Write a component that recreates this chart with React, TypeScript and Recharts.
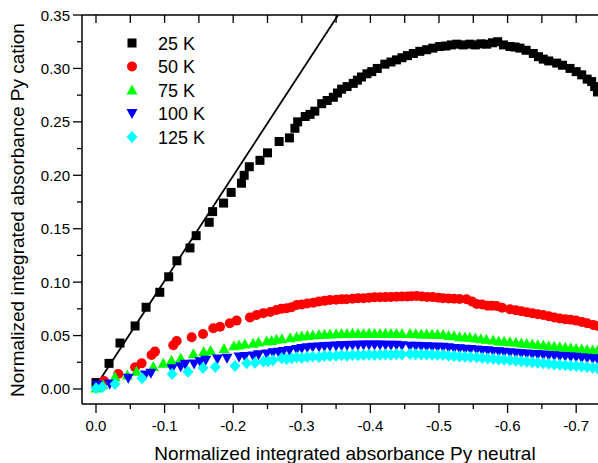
import React from 'react';
import { ScatterChart, Scatter, XAxis, YAxis, ReferenceLine } from 'recharts';

// [neutral, cation] pairs
const k25: [number, number][] = [
  [0, 0.006], [-0.019, 0.024], [-0.035, 0.043], [-0.057, 0.059], [-0.073, 0.0765],
  [-0.093, 0.0905], [-0.106, 0.105], [-0.118, 0.12], [-0.137, 0.132], [-0.146, 0.1435],
  [-0.165, 0.156], [-0.17, 0.166], [-0.186, 0.174], [-0.197, 0.184], [-0.212, 0.1926],
  [-0.216, 0.2], [-0.2235, 0.208], [-0.239, 0.214], [-0.25, 0.221], [-0.267, 0.2316],
  [-0.282, 0.235], [-0.29, 0.244], [-0.294, 0.25], [-0.305, 0.255], [-0.312, 0.257],
  [-0.319, 0.26], [-0.329, 0.267], [-0.337, 0.27], [-0.346, 0.273], [-0.352, 0.277],
  [-0.358, 0.2806], [-0.366, 0.283], [-0.375, 0.286], [-0.381, 0.289], [-0.387, 0.292],
  [-0.395, 0.295], [-0.402, 0.297], [-0.41, 0.3], [-0.421, 0.304], [-0.43, 0.306],
  [-0.438, 0.308], [-0.446, 0.31], [-0.454, 0.312], [-0.4626, 0.314], [-0.472, 0.316],
  [-0.482, 0.3175], [-0.491, 0.319], [-0.501, 0.3205], [-0.51, 0.321], [-0.518, 0.322],
  [-0.526, 0.3227], [-0.535, 0.322], [-0.545, 0.3227], [-0.553, 0.322], [-0.561, 0.323],
  [-0.5695, 0.3227], [-0.578, 0.324], [-0.5856, 0.325], [-0.594, 0.322], [-0.6035, 0.3205],
  [-0.611, 0.32], [-0.618, 0.319], [-0.627, 0.317], [-0.6375, 0.314], [-0.645, 0.311],
  [-0.652, 0.3087], [-0.66, 0.307], [-0.6716, 0.305], [-0.68, 0.303], [-0.691, 0.3],
  [-0.7, 0.297], [-0.708, 0.294], [-0.716, 0.29], [-0.7226, 0.2877], [-0.727, 0.283],
  [-0.731, 0.278],
];

const k50: [number, number][] = [
  [-0.005, 0.002], [-0.0117, 0.0075], [-0.0325, 0.014], [-0.057, 0.0203], [-0.0666, 0.024],
  [-0.081, 0.0318], [-0.086, 0.035], [-0.1127, 0.041], [-0.1176, 0.045], [-0.1395, 0.0484],
  [-0.156, 0.0515], [-0.171, 0.0568], [-0.1808, 0.0583], [-0.195, 0.0615], [-0.205, 0.064],
  [-0.2245, 0.067], [-0.234, 0.0693], [-0.244, 0.071], [-0.254, 0.072], [-0.263, 0.074],
  [-0.27, 0.075], [-0.278, 0.0755], [-0.285, 0.0765], [-0.2925, 0.0786], [-0.3, 0.079],
  [-0.308, 0.08], [-0.3168, 0.0808], [-0.325, 0.082], [-0.333, 0.0825], [-0.341, 0.0833],
  [-0.35, 0.0835], [-0.358, 0.084], [-0.365, 0.084], [-0.374, 0.0845], [-0.382, 0.085],
  [-0.39, 0.085], [-0.398, 0.0855], [-0.406, 0.0858], [-0.414, 0.0859], [-0.422, 0.086],
  [-0.43, 0.0862], [-0.438, 0.0864], [-0.446, 0.0866], [-0.454, 0.0866], [-0.46, 0.0868],
  [-0.4675, 0.087], [-0.475, 0.0865], [-0.483, 0.0862], [-0.491, 0.086], [-0.499, 0.0855],
  [-0.506, 0.085], [-0.514, 0.0848], [-0.522, 0.0845], [-0.53, 0.0842], [-0.54, 0.084],
  [-0.548, 0.082], [-0.555, 0.0796], [-0.563, 0.079], [-0.571, 0.078], [-0.577, 0.078],
  [-0.584, 0.0777], [-0.592, 0.076], [-0.6035, 0.0746], [-0.612, 0.0737], [-0.62, 0.0728],
  [-0.628, 0.0718], [-0.636, 0.071], [-0.644, 0.07], [-0.652, 0.0693], [-0.66, 0.068],
  [-0.668, 0.067], [-0.676, 0.066], [-0.684, 0.0653], [-0.692, 0.0648], [-0.7, 0.064],
  [-0.708, 0.0628], [-0.716, 0.0615], [-0.725, 0.06], [-0.732, 0.059],
];

const k75: [number, number][] = [
  [0, 0.001], [-0.01, 0.004], [-0.0277, 0.0115], [-0.0457, 0.0131], [-0.059, 0.0165],
  [-0.0835, 0.021], [-0.098, 0.024], [-0.11, 0.027], [-0.1235, 0.029], [-0.142, 0.033],
  [-0.157, 0.035], [-0.167, 0.036], [-0.1866, 0.038], [-0.201, 0.0405], [-0.2085, 0.0412],
  [-0.217, 0.042], [-0.229, 0.0428], [-0.237, 0.044], [-0.249, 0.045], [-0.256, 0.0455],
  [-0.263, 0.0465], [-0.271, 0.047], [-0.283, 0.048], [-0.2925, 0.049], [-0.3, 0.0495],
  [-0.308, 0.05], [-0.316, 0.0505], [-0.325, 0.051], [-0.333, 0.0512], [-0.341, 0.0515],
  [-0.35, 0.0518], [-0.358, 0.052], [-0.366, 0.052], [-0.374, 0.0522], [-0.382, 0.052],
  [-0.39, 0.052], [-0.398, 0.0522], [-0.406, 0.052], [-0.414, 0.052], [-0.422, 0.0522],
  [-0.43, 0.052], [-0.438, 0.052], [-0.446, 0.052], [-0.4577, 0.052], [-0.466, 0.0518],
  [-0.474, 0.0515], [-0.482, 0.0515], [-0.49, 0.0513], [-0.498, 0.0512], [-0.506, 0.0512],
  [-0.514, 0.05], [-0.522, 0.0498], [-0.53, 0.049], [-0.538, 0.0487], [-0.545, 0.0484],
  [-0.553, 0.0477], [-0.561, 0.047], [-0.569, 0.0465], [-0.579, 0.0459], [-0.587, 0.045],
  [-0.595, 0.0447], [-0.6035, 0.0443], [-0.612, 0.0437], [-0.62, 0.043], [-0.628, 0.0425],
  [-0.636, 0.042], [-0.644, 0.0415], [-0.652, 0.0412], [-0.66, 0.0405], [-0.668, 0.04],
  [-0.676, 0.0395], [-0.684, 0.039], [-0.692, 0.0385], [-0.7, 0.038], [-0.708, 0.0375],
  [-0.716, 0.037], [-0.724, 0.0365], [-0.731, 0.036],
];

const k100: [number, number][] = [
  [-0.002, 0.0037], [-0.02, 0.0047], [-0.047, 0.01], [-0.072, 0.013], [-0.08, 0.0147],
  [-0.111, 0.019], [-0.1235, 0.0209], [-0.13, 0.0231], [-0.143, 0.0234], [-0.1516, 0.0256],
  [-0.16, 0.027], [-0.177, 0.028], [-0.191, 0.0287], [-0.2085, 0.03], [-0.217, 0.0305],
  [-0.229, 0.0309], [-0.237, 0.032], [-0.249, 0.0328], [-0.258, 0.034], [-0.266, 0.0345],
  [-0.273, 0.035], [-0.282, 0.036], [-0.2925, 0.037], [-0.3, 0.0378], [-0.308, 0.0385],
  [-0.316, 0.039], [-0.325, 0.0393], [-0.333, 0.0397], [-0.341, 0.04], [-0.35, 0.0403],
  [-0.358, 0.0405], [-0.366, 0.0408], [-0.374, 0.041], [-0.382, 0.041], [-0.39, 0.0412],
  [-0.398, 0.0412], [-0.406, 0.0412], [-0.414, 0.0412], [-0.422, 0.041], [-0.43, 0.041],
  [-0.438, 0.041], [-0.446, 0.0405], [-0.4577, 0.04], [-0.466, 0.04], [-0.474, 0.0398],
  [-0.482, 0.0395], [-0.49, 0.0393], [-0.498, 0.039], [-0.506, 0.039], [-0.514, 0.0385],
  [-0.522, 0.038], [-0.53, 0.0377], [-0.538, 0.0373], [-0.546, 0.037], [-0.555, 0.0365],
  [-0.563, 0.036], [-0.571, 0.0357], [-0.579, 0.0352], [-0.587, 0.0348], [-0.595, 0.0344],
  [-0.6035, 0.034], [-0.612, 0.0335], [-0.62, 0.033], [-0.628, 0.0327], [-0.636, 0.0324],
  [-0.644, 0.032], [-0.652, 0.0318], [-0.66, 0.0313], [-0.668, 0.031], [-0.676, 0.0306],
  [-0.684, 0.0303], [-0.692, 0.03], [-0.7, 0.0297], [-0.708, 0.029], [-0.716, 0.0287],
  [-0.724, 0.0282], [-0.731, 0.0278],
];

const k125: [number, number][] = [
  [0, 0.0007], [-0.009, 0.0016], [-0.0277, 0.0047], [-0.067, 0.01], [-0.111, 0.014],
  [-0.134, 0.0162], [-0.156, 0.0197], [-0.174, 0.0205], [-0.2026, 0.0215], [-0.2197, 0.024],
  [-0.2318, 0.0246], [-0.244, 0.0258], [-0.251, 0.026], [-0.258, 0.027], [-0.2707, 0.0287],
  [-0.278, 0.028], [-0.2853, 0.0287], [-0.2925, 0.0297], [-0.3, 0.029], [-0.308, 0.03],
  [-0.316, 0.0305], [-0.325, 0.03], [-0.333, 0.031], [-0.341, 0.0309], [-0.35, 0.031],
  [-0.358, 0.0315], [-0.366, 0.031], [-0.374, 0.0318], [-0.382, 0.0315], [-0.39, 0.0318],
  [-0.398, 0.032], [-0.406, 0.0318], [-0.414, 0.032], [-0.422, 0.0322], [-0.43, 0.032],
  [-0.438, 0.0325], [-0.446, 0.0322], [-0.4577, 0.0328], [-0.466, 0.0325], [-0.474, 0.0322],
  [-0.482, 0.0322], [-0.49, 0.032], [-0.498, 0.0318], [-0.506, 0.0318], [-0.514, 0.031],
  [-0.522, 0.0308], [-0.53, 0.0305], [-0.538, 0.0302], [-0.546, 0.03], [-0.555, 0.0297],
  [-0.563, 0.029], [-0.571, 0.0285], [-0.579, 0.028], [-0.587, 0.0277], [-0.595, 0.0273],
  [-0.6035, 0.027], [-0.612, 0.0265], [-0.62, 0.026], [-0.628, 0.0255], [-0.636, 0.025],
  [-0.644, 0.0245], [-0.652, 0.024], [-0.66, 0.0236], [-0.668, 0.023], [-0.676, 0.0227],
  [-0.684, 0.0222], [-0.692, 0.0218], [-0.7, 0.0215], [-0.708, 0.021], [-0.716, 0.0205],
  [-0.724, 0.02], [-0.731, 0.0194],
];

// linear guide through the origin
const fitLine: [number, number][] = [[0.003, 0], [-0.353, 0.35]];

const xTicks = [0, -0.05, -0.1, -0.15, -0.2, -0.25, -0.3, -0.35, -0.4, -0.45, -0.5, -0.55, -0.6, -0.65, -0.7];
const yTicks = [0, 0.025, 0.05, 0.075, 0.1, 0.125, 0.15, 0.175, 0.2, 0.225, 0.25, 0.275, 0.3, 0.325, 0.35];

const FONT = '"Liberation Sans", Arial, sans-serif';
const TOP = 15;

const toPts = (arr: [number, number][]) => arr.map(([x, y]) => ({ x, y }));

const isMajor = (v: number, step: number) => Math.abs(Math.round(v / step) * step - v) < 1e-6;

function XTick({ x, y, payload }: any) {
  const v = payload.value;
  const major = isMajor(v, 0.1);
  return (
    <g>
      <line x1={x} x2={x} y1={y} y2={y + (major ? 9 : 5)} stroke="#000" strokeWidth={1.3} />
      <line x1={x} x2={x} y1={TOP} y2={TOP + 8} stroke="#000" strokeWidth={1.3} />
      {major && (
        <text x={x} y={y + 27} textAnchor="middle" fontSize={15} fontFamily={FONT} fill="#000">
          {v === 0 ? '0.0' : v.toFixed(1)}
        </text>
      )}
    </g>
  );
}

function YTick({ x, y, payload }: any) {
  const v = payload.value;
  const major = isMajor(v, 0.05);
  return (
    <g>
      <line x1={x} x2={x - (major ? 9 : 5)} y1={y} y2={y} stroke="#000" strokeWidth={1.3} />
      {major && (
        <text x={x - 12} y={y + 5.5} textAnchor="end" fontSize={15} fontFamily={FONT} fill="#000">
          {v.toFixed(2)}
        </text>
      )}
    </g>
  );
}

const Square = ({ cx, cy, fill }: any) => <rect x={cx - 4.5} y={cy - 4.5} width={9} height={9} fill={fill} />;
const Dot = ({ cx, cy, fill }: any) => <circle cx={cx} cy={cy} r={5} fill={fill} />;
const TriUp = ({ cx, cy, fill }: any) => (
  <polygon points={`${cx},${cy - 5.5} ${cx + 5.5},${cy + 4.5} ${cx - 5.5},${cy + 4.5}`} fill={fill} />
);
const TriDown = ({ cx, cy, fill }: any) => (
  <polygon points={`${cx - 5.5},${cy - 4.5} ${cx + 5.5},${cy - 4.5} ${cx},${cy + 5.5}`} fill={fill} />
);
const Diamond = ({ cx, cy, fill }: any) => (
  <polygon points={`${cx},${cy - 6} ${cx + 5.5},${cy} ${cx},${cy + 6} ${cx - 5.5},${cy}`} fill={fill} />
);

const series = [
  { name: '25 K', data: k25, color: '#000000', shape: Square },
  { name: '50 K', data: k50, color: '#ff0000', shape: Dot },
  { name: '75 K', data: k75, color: '#00ff00', shape: TriUp },
  { name: '100 K', data: k100, color: '#0000ff', shape: TriDown },
  { name: '125 K', data: k125, color: '#00ffff', shape: Diamond },
];

export default function App() {
  return (
    <div style={{ position: 'absolute', left: 0, top: 0, width: 598, height: 463, overflow: 'hidden', background: '#fff' }}>
      <ScatterChart width={598} height={463} margin={{ top: TOP, right: 0, bottom: 0, left: 0 }}>
        <XAxis
          type="number"
          dataKey="x"
          domain={[-0.7318, 0.0204]}
          reversed
          allowDataOverflow
          ticks={xTicks}
          interval={0}
          tick={<XTick />}
          tickSize={0}
          tickMargin={0}
          tickLine={false}
          height={59}
          axisLine={{ stroke: '#000', strokeWidth: 1.5 }}
        />
        <YAxis
          type="number"
          dataKey="y"
          domain={[-0.01404, 0.35]}
          allowDataOverflow
          ticks={yTicks}
          interval={0}
          tick={<YTick />}
          tickSize={0}
          tickMargin={0}
          tickLine={false}
          width={82}
          axisLine={{ stroke: '#000', strokeWidth: 1.5 }}
        />
        <ReferenceLine y={0.35} stroke="#000" strokeWidth={1.5} />
        {series.map((s) => (
          <Scatter
            key={s.name}
            name={s.name}
            data={toPts(s.data)}
            fill={s.color}
            shape={s.shape}
            isAnimationActive={false}
          />
        ))}
        <ReferenceLine
          segment={fitLine.map(([x, y]) => ({ x, y }))}
          stroke="#000"
          strokeWidth={1.8}
          ifOverflow="hidden"
        />
      </ScatterChart>

      <svg width={598} height={463} style={{ position: 'absolute', left: 0, top: 0, pointerEvents: 'none' }}>
        <text
          x={0}
          y={0}
          transform="translate(24, 210) rotate(-90)"
          textAnchor="middle"
          fontSize={19}
          fontFamily={FONT}
          fill="#000"
        >
          Normalized integrated absorbance Py cation
        </text>
        <text x={345} y={460} textAnchor="middle" fontSize={19} fontFamily={FONT} fill="#000">
          Normalized integrated absorbance Py neutral
        </text>
        {series.map((s, i) => {
          const cy = 43 + i * 23.5;
          const Shape = s.shape;
          return (
            <g key={s.name}>
              <Shape cx={132} cy={cy} fill={s.color} />
              <text x={158} y={cy + 6.5} fontSize={18} fontFamily={FONT} fill="#000">
                {s.name}
              </text>
            </g>
          );
        })}
      </svg>
    </div>
  );
}
